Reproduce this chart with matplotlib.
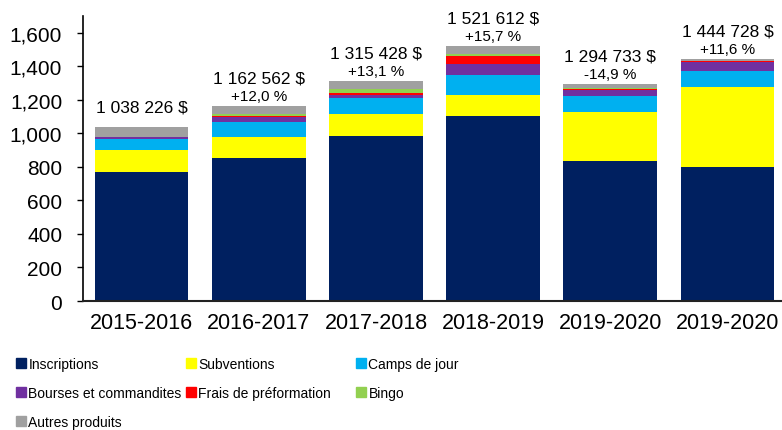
import matplotlib
matplotlib.use("Agg")
import matplotlib.pyplot as plt
from matplotlib.patches import Patch
from matplotlib.ticker import StrMethodFormatter
import numpy as np

plt.rcParams['font.family'] = ['Liberation Sans', 'DejaVu Sans']

# revenus par poste, en milliers de $
years = ["2015-2016", "2016-2017", "2017-2018", "2018-2019", "2019-2020", "2019-2020"]
inscriptions = [772, 854, 987, 1103, 836, 798]
subventions = [131, 127, 128, 127, 292, 479]
camps = [64, 86, 97, 121, 94, 94]
bourses = [12, 30, 14, 64, 39, 54]
frais = [0, 5, 14, 44, 5, 6]
bingo = [0, 15, 26, 16, 6, 2]
autres = [59, 45, 49, 46, 23, 12]

totals = ["1 038 226 $", "1 162 562 $", "1 315 428 $", "1 521 612 $", "1 294 733 $", "1 444 728 $"]
growth = ["", "+12,0 %", "+13,1 %", "+15,7 %", "-14,9 %", "+11,6 %"]

series = [
    ("Inscriptions", inscriptions, "#002060"),
    ("Subventions", subventions, "#FFFF00"),
    ("Camps de jour", camps, "#00B0F0"),
    ("Bourses et commandites", bourses, "#7030A0"),
    ("Frais de préformation", frais, "#FF0000"),
    ("Bingo", bingo, "#92D050"),
    ("Autres produits", autres, "#A0A0A0"),
]

fig = plt.figure(figsize=(7.82, 4.31), dpi=100)
ax = fig.add_axes([83 / 782, 1 - 302 / 431, 1 - 83 / 782, (302 - 17) / 431])

x = np.arange(len(years))
bottom = np.zeros(len(years))
for name, vals, col in series:
    ax.bar(x, vals, 0.8, bottom=bottom, color=col, label=name, linewidth=0)
    bottom += np.array(vals)

for i in range(len(years)):
    if growth[i]:
        ax.annotate(totals[i], (x[i], bottom[i]), xytext=(0, 28), textcoords="offset pixels",
                    ha="center", va="center", fontsize=12.5)
        ax.annotate(growth[i], (x[i], bottom[i]), xytext=(0, 10), textcoords="offset pixels",
                    ha="center", va="center", fontsize=11)
    else:
        ax.annotate(totals[i], (x[i], bottom[i]), xytext=(0, 20), textcoords="offset pixels",
                    ha="center", va="center", fontsize=12.5)

ax.set_xlim(-0.5, 5.465)
ax.set_ylim(0, 1700)
ax.set_yticks(np.arange(0, 1601, 200))
ax.yaxis.set_major_formatter(StrMethodFormatter("{x:,.0f}"))
ax.set_xticks(x)
ax.set_xticklabels(years)
ax.tick_params(axis="x", length=0, pad=8, labelsize=15.5)
ax.tick_params(axis="y", length=4, width=1, direction="out", pad=11, labelsize=15)
for s in ["top", "right"]:
    ax.spines[s].set_visible(False)
ax.spines["left"].set_linewidth(1.2)
ax.spines["bottom"].set_linewidth(1.5)
ax.spines["bottom"].set_color("#222222")

# legende en 3 colonnes, remplie ligne par ligne
handles = [Patch(color=col, label=name) for name, vals, col in series]
col_x = [16, 186, 356]
for c in range(3):
    hs = handles[c::3]
    fig.legend(handles=hs, loc="upper left", bbox_to_anchor=(col_x[c] / 782, 1 - 358 / 431),
               frameon=False, borderpad=0, borderaxespad=0, handlelength=0.7, handleheight=0.7,
               handletextpad=0.2, labelspacing=1.08, fontsize=10)

fig.savefig("out.png", dpi=100)
